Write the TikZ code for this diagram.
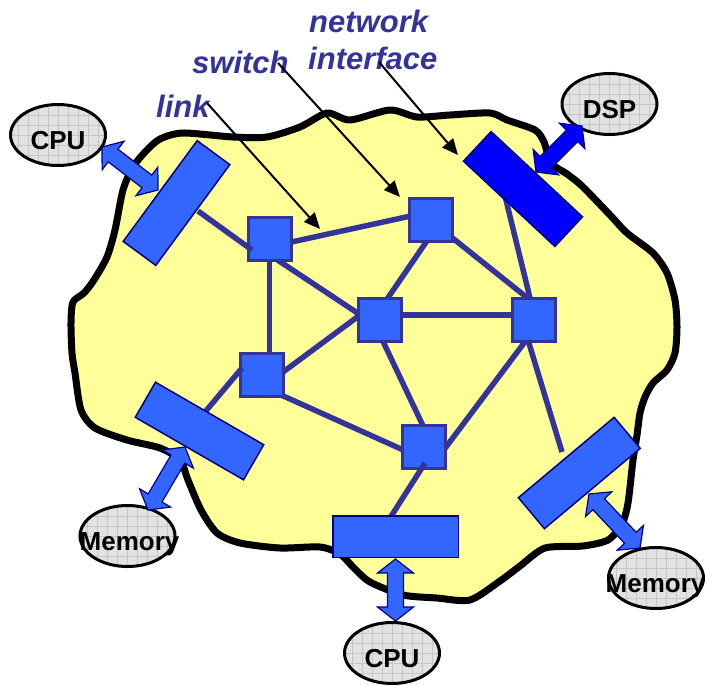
\documentclass[tikz,border=0pt]{standalone}
\usepackage{fontspec}
\setmainfont{Liberation Sans}
\usetikzlibrary{shapes.geometric,arrows.meta,calc}
\definecolor{blobfill}{HTML}{FFFF99}
\definecolor{linkcol}{HTML}{333399}
\definecolor{swfill}{HTML}{3366FF}
\definecolor{niborder}{HTML}{000080}
\definecolor{dspfill}{HTML}{0000FF}
\definecolor{ellfill}{HTML}{E2E2E2}
\definecolor{gridcol}{HTML}{C6C6C6}
\tikzset{
  blob/.style={draw=black, line width=7pt, fill=blobfill, line join=round},
  switchbox/.style={draw=linkcol, line width=3pt, fill=swfill, minimum size=43pt, inner sep=0pt},
  nibox/.style={draw=niborder, line width=1.5pt, fill=swfill, minimum width=125pt, minimum height=40.5pt, inner sep=0pt},
  dspbox/.style={nibox, fill=dspfill},
  link/.style={draw=linkcol, line width=5.5pt},
  proc/.style={ellipse, draw=black, line width=3pt, fill=ellfill, minimum width=95pt, minimum height=61pt, inner sep=0pt,
    path picture={\draw[gridcol, line width=0.6pt] (path picture bounding box.south west) grid[step=10pt] (path picture bounding box.north east);}},
  proctext/.style={font=\fontsize{26}{30}\selectfont\bfseries, inner sep=0pt, anchor=base},
  lbl/.style={text=linkcol, font=\fontsize{31}{36}\selectfont\bfseries\itshape, inner sep=0pt, anchor=base west},
  pointer/.style={draw=black, line width=2pt, -{Triangle[length=16pt,width=14pt]}},
  blockarr/.style={draw=niborder, line width=1.2pt, fill=swfill, line join=miter},
  dsparr/.style={blockarr, fill=dspfill},
}
\newcommand\blockarrow[3]{%
  \path let \p1=(#2), \p2=(#3), \n1={atan2(\y2-\y1,\x2-\x1)}, \n2={veclen(\x2-\x1,\y2-\y1)} in \pgfextra{\xdef\baang{\n1}\xdef\balen{\n2}};
  \begin{scope}[shift={(#2)}, rotate=\baang]
    \draw[#1] (0pt,0pt) -- (14pt,18pt) -- (14pt,8pt) -- (\balen-14pt,8pt) -- (\balen-14pt,18pt)
      -- (\balen,0pt) -- (\balen-14pt,-18pt) -- (\balen-14pt,-8pt) -- (14pt,-8pt) -- (14pt,-18pt) -- cycle;
  \end{scope}}
\begin{document}
\begin{tikzpicture}[x=1pt, y=-1pt]
\useasboundingbox (0,0) rectangle (706,685);
% cloud
\draw[blob] plot[smooth cycle, tension=0.45] coordinates {
 (160,139) (183,133) (233,137) (267,137) (300,127) (327,113) (350,120) (390,110) (417,117) (450,115)
 (490,113) (507,120) (535,130) (544,142) (551,163) (567,174) (582,186) (610,215) (627,233) (653,253)
 (667,273) (675,300) (677,327) (675,353) (667,370) (653,383) (645,397) (640,413) (637,435) (633,460)
 (628,503) (622,524) (608,540) (583,546) (545,548) (520,566) (500,581) (470,600) (437,598) (403,595)
 (370,582) (353,567) (340,554) (320,547) (280,548) (240,543) (217,533) (201,510) (188,480) (180,460)
 (160,448) (127,440) (95,428) (81,410) (75,373) (72,353) (71,323) (73,302) (84,293) (94,280)
 (107,257) (115,230) (123,190) (133,167) (146,151)};
% switches (positions)
\coordinate (p1) at (270,239);
\coordinate (p2) at (431,220);
\coordinate (p3) at (380,320);
\coordinate (p4) at (534,320);
\coordinate (p5) at (262,375);
\coordinate (p6) at (424,447);
% links between switches
\draw[link] (280,244.5) -- (420,214);
\draw[link] (270,255) -- (365,318);
\draw[link] (269.5,255) -- (269.5,362);
\draw[link] (431,235) -- (383,305);
\draw[link] (445,232) -- (530,300);
\draw[link] (395,315) -- (520,315);
\draw[link] (360,315) -- (275,378);
\draw[link] (380,335) -- (425,430);
\draw[link] (270,390) -- (410,453);
\draw[link] (530,335) -- (440,455);
\node[switchbox] (s1) at (p1) {};
\node[switchbox] (s2) at (p2) {};
\node[switchbox] (s3) at (p3) {};
\node[switchbox] (s4) at (p4) {};
\node[switchbox] (s5) at (p5) {};
\node[switchbox] (s6) at (p6) {};
% links to network interfaces
\draw[link] (198,211) -- (252,250);
\draw[link] (505,196) -- (530,298);
\draw[link] (528,340) -- (562,452);
\draw[link] (205,412) -- (242,368);
\draw[link] (390,518) -- (425,463);
% network interfaces
\node[nibox, rotate=53.7] (ni1) at (176.5,203) {};
\node[dspbox, rotate=-43] (ni2) at (523,189) {};
\node[nibox, rotate=-30] (ni3) at (199.5,431) {};
\node[nibox, minimum width=125.5pt, minimum height=41.5pt] (ni4) at (395.5,536.5) {};
\node[nibox, rotate=40] (ni5) at (579.3,473) {};
% processing elements
\node[proc] (cpu1) at (58,135) {};
\node[proc] (dsp) at (609.5,104) {};
\node[proc] (mem1) at (127.5,536) {};
\node[proc] (cpu2) at (392,653) {};
\node[proc] (mem2) at (656,578) {};
\node[proctext] (cpu1t) at ([yshift=-14pt]cpu1.center) {CPU};
\node[proctext] (dspt) at ([yshift=-14.5pt]dsp.center) {DSP};
\node[proctext] (mem1t) at ([xshift=2pt,yshift=-14pt]mem1.center) {Memory};
\node[proctext] (cpu2t) at ([yshift=-14pt]cpu2.center) {CPU};
\node[proctext] (mem2t) at ([xshift=-0.5pt,yshift=-14pt]mem2.center) {Memory};
% block arrows
\coordinate (a1) at (102,147); \coordinate (a2) at (158,190);
\coordinate (b1) at (536,172); \coordinate (b2) at (582,126);
\coordinate (c1) at (185,447); \coordinate (c2) at (148,510);
\coordinate (d1) at (395.5,559); \coordinate (d2) at (395.5,621);
\coordinate (e1) at (589,494); \coordinate (e2) at (640,548);
\blockarrow{blockarr}{a1}{a2}
\blockarrow{dsparr}{b1}{b2}
\blockarrow{blockarr}{c1}{c2}
\blockarrow{blockarr}{d1}{d2}
\blockarrow{blockarr}{e1}{e2}
% labels
\node[lbl] (lnet) at (309,33) {network};
\node[lbl] (lint) at (308,69) {interface};
\node[lbl] (lsw) at (192,74) {switch};
\node[lbl] (llink) at (156,117) {link};
\coordinate (k1) at (207,103); \coordinate (k2) at (320,229);
\coordinate (w1) at (278,63);  \coordinate (w2) at (400,197);
\coordinate (n1) at (379,62);  \coordinate (n2) at (458,155);
\draw[pointer] (k1) -- (k2);
\draw[pointer] (w1) -- (w2);
\draw[pointer] (n1) -- (n2);
\end{tikzpicture}
\end{document}
